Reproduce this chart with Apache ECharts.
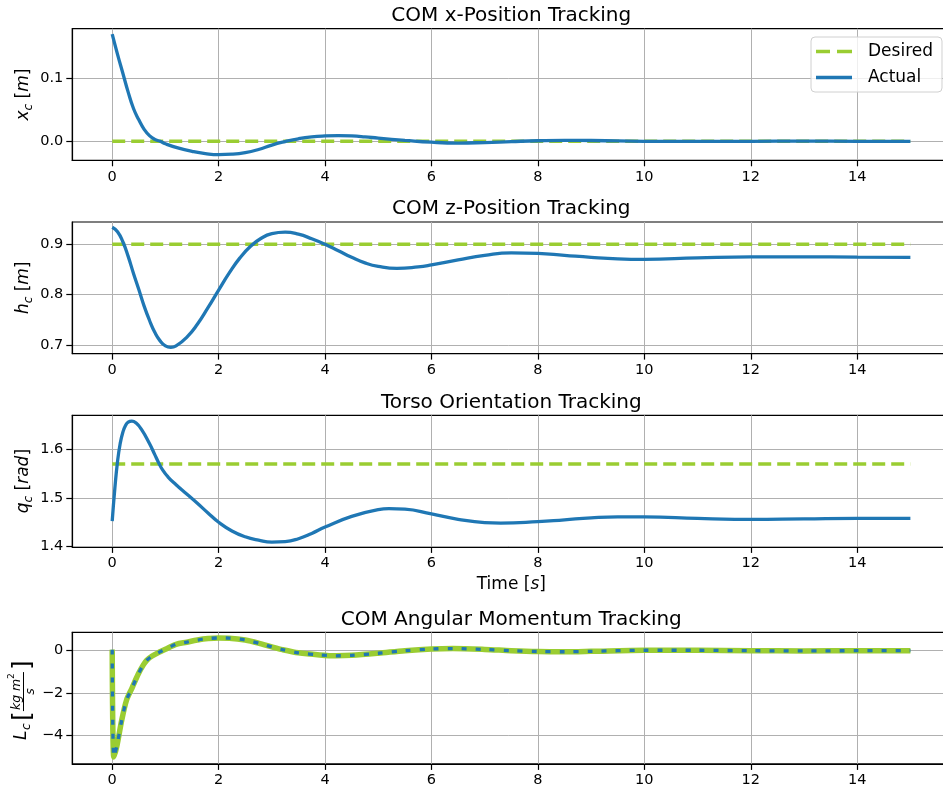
<!DOCTYPE html>
<html><head><meta charset="utf-8">
<script src="https://cdn.jsdelivr.net/npm/echarts@6/dist/echarts.min.js"></script>
<style>html,body{margin:0;padding:0;background:#fff}#c{width:943px;height:792px}</style>
</head><body><div id="c"></div>
<script>
// ---------- data ----------
const titleTexts = ['COM x-Position Tracking', 'COM z-Position Tracking', 'Torso Orientation Tracking', 'COM Angular Momentum Tracking'];
const xTicks = [0, 2, 4, 6, 8, 10, 12, 14];
const yTicks1 = [0, 0.1];
const yTicks2 = [0.7, 0.8, 0.9];
const yTicks3 = [1.4, 1.5, 1.6];
const yTicks4 = [-4, -2, 0];

// desired references (constant)
const tDes = [0, 15];
const xDes = [0, 0];
const hDes = [0.9, 0.9];
const qDes = [1.57, 1.57];

// COM x-position (actual)
const tX = [0,0.1,0.2,0.3,0.4,0.5,0.6,0.7,0.8,0.9,1.0,1.25,1.5,1.75,2.0,2.25,2.5,2.75,3.0,3.25,3.5,3.75,4.0,4.25,4.5,4.75,5.0,5.5,6.0,6.5,7.0,7.5,8.0,8.5,9.0,9.5,10,11,12,13,14,15];
const xAct = [0.17,0.138,0.108,0.078,0.052,0.034,0.019,0.009,0.003,0.0,-0.004,-0.011,-0.016,-0.0195,-0.0212,-0.0205,-0.018,-0.013,-0.006,-0.0005,0.004,0.007,0.0085,0.009,0.0085,0.007,0.005,0.0015,-0.0015,-0.0028,-0.002,-0.0005,0.0008,0.0014,0.0012,0.0005,0.0,-0.0003,0.0,0.0002,0.0,0.0];

// COM z-position (actual)
const tH = [0,0.1,0.2,0.3,0.4,0.5,0.6,0.7,0.8,0.9,1.0,1.1,1.2,1.4,1.6,1.8,2.0,2.2,2.4,2.6,2.8,3.0,3.25,3.5,3.75,4.0,4.25,4.5,4.75,5.0,5.35,5.75,6.0,6.5,7.0,7.5,8.0,8.5,9.0,9.5,10,11,12,13,14,15];
const hAct = [0.934,0.925,0.905,0.876,0.842,0.81,0.777,0.749,0.725,0.708,0.698,0.695,0.698,0.715,0.741,0.774,0.809,0.843,0.873,0.896,0.912,0.921,0.924,0.920,0.911,0.900,0.887,0.874,0.863,0.856,0.852,0.855,0.859,0.869,0.878,0.883,0.882,0.878,0.874,0.871,0.870,0.873,0.875,0.875,0.8745,0.874];

// torso orientation (actual)
const tQ = [0,0.05,0.1,0.15,0.2,0.25,0.3,0.37,0.45,0.55,0.7,0.8,0.87,0.95,1.05,1.2,1.4,1.6,1.8,2.0,2.25,2.5,2.75,3.0,3.25,3.5,3.75,4.0,4.5,5.0,5.2,5.5,6.0,6.5,7.0,7.3,8.0,8.5,9.0,9.5,10,11,11.7,12,13,14,15];
const qAct = [1.452,1.52,1.575,1.612,1.635,1.649,1.656,1.658,1.654,1.641,1.612,1.589,1.573,1.557,1.543,1.527,1.508,1.489,1.469,1.45,1.432,1.42,1.413,1.409,1.41,1.416,1.427,1.44,1.462,1.476,1.478,1.477,1.467,1.456,1.449,1.448,1.451,1.455,1.459,1.461,1.461,1.458,1.456,1.456,1.457,1.458,1.458];

// COM angular momentum (desired and actual coincide)
const tL = [0,0.03,0.085,0.18,0.27,0.37,0.49,0.585,0.65,0.75,0.9,1.0,1.2,1.4,1.6,1.8,2.0,2.2,2.5,2.8,3.0,3.2,3.5,3.9,4.2,4.5,5.0,5.5,6.0,6.4,7.0,7.5,8.0,8.5,9.0,10,11,12,13,14,15];
const LDes = [0.05,-5.0,-4.52,-3.26,-2.32,-1.77,-1.1,-0.67,-0.45,-0.25,-0.05,0.07,0.3,0.4,0.5,0.57,0.6,0.59,0.5,0.32,0.18,0.05,-0.1,-0.2,-0.24,-0.22,-0.12,0.0,0.08,0.1,0.06,0.0,-0.04,-0.05,-0.03,0.02,0.02,0.0,-0.01,0.0,0.0];
const LAct = [0.05,-5.0,-4.52,-3.26,-2.32,-1.77,-1.1,-0.67,-0.45,-0.25,-0.05,0.07,0.3,0.4,0.5,0.57,0.6,0.59,0.5,0.32,0.18,0.05,-0.1,-0.2,-0.24,-0.22,-0.12,0.0,0.08,0.1,0.06,0.0,-0.04,-0.05,-0.03,0.02,0.02,0.0,-0.01,0.0,0.0];

// ---------- chart ----------
const FF = 'DejaVu Sans';
const BLUE = '#1f77b4', GREEN = '#9acd32';
const pairs = (t, v) => t.map((x, i) => [x, v[i]]);
const gridTops = [28.7, 222, 415.3, 632.3];
const GH = 131.6, GL = 72.3, GW = 878;
const yRanges = [[-0.0302, 0.1787], [0.6827, 0.9443], [1.3992, 1.670], [-5.33, 0.866]];
const yTickSets = [yTicks1, yTicks2, yTicks3, yTicks4];
const minusFmt = v => (v < 0 ? '\u2212' + Math.abs(v) : String(v));
const yFmts = [v => v.toFixed(1), v => v.toFixed(1), v => v.toFixed(1), minusFmt];

const axisCommon = {
  axisLine: { show: true, onZero: false, lineStyle: { color: '#000', width: 1.2 } },
  axisTick: { show: true, inside: false, length: 6, lineStyle: { color: '#000', width: 1.2 } },
  splitLine: { show: true, lineStyle: { color: '#b0b0b0', width: 1 } }
};

const grids = gridTops.map(t => ({ left: GL, top: t, width: GW, height: GH, show: true, borderColor: '#000', borderWidth: 1.2, backgroundColor: 'transparent', outerBoundsMode: 'none', containLabel: false }));

const xAxes = gridTops.map((t, i) => ({
  type: 'value', gridIndex: i, min: -0.75, max: 15.75,
  ...axisCommon,
  axisTick: { ...axisCommon.axisTick, customValues: xTicks },
  axisLabel: { customValues: xTicks, margin: 9, fontSize: 14.5, fontFamily: FF, color: '#000', formatter: v => String(v) },
  name: i === 2 ? 'Time [{i|s}]' : '',
  nameLocation: 'middle', nameGap: 29,
  nameTextStyle: { fontSize: 17, fontFamily: FF, color: '#000', rich: { i: { fontSize: 17, fontFamily: FF, fontStyle: 'italic', color: '#000' } } }
}));

const yAxes = gridTops.map((t, i) => ({
  type: 'value', gridIndex: i, min: yRanges[i][0], max: yRanges[i][1],
  ...axisCommon,
  axisTick: { ...axisCommon.axisTick, customValues: yTickSets[i] },
  axisLabel: { customValues: yTickSets[i], margin: 9, fontSize: 14.5, fontFamily: FF, color: '#000', formatter: yFmts[i] }
}));

const desStyle = { color: GREEN, width: 3.5, type: [13, 6] };
const actStyle = { color: BLUE, width: 3.3, type: 'solid' };
const mk = (name, gi, data, ls, smooth) => ({
  name, type: 'line', xAxisIndex: gi, yAxisIndex: gi, data, symbol: 'none', showSymbol: false,
  smooth, lineStyle: ls, itemStyle: { color: ls.color }, animation: false, emphasis: { disabled: true }
});

const series = [
  mk('Desired', 0, pairs(tDes, xDes), desStyle, false),
  mk('Actual', 0, pairs(tX, xAct), actStyle, 0.5),
  mk('Desired', 1, pairs(tDes, hDes), desStyle, false),
  mk('Actual', 1, pairs(tH, hAct), actStyle, 0.5),
  mk('Desired', 2, pairs(tDes, qDes), desStyle, false),
  mk('Actual', 2, pairs(tQ, qAct), actStyle, 0.5),
  mk('Desired', 3, pairs(tL, LDes), { color: GREEN, width: 5.5, type: 'solid' }, 0.3),
  mk('Actual', 3, pairs(tL, LAct), { color: BLUE, width: 3.3, type: [5, 9] }, 0.3)
];

const titleTops = gridTops.map(t => t - 23);
const titles = titleTexts.map((txt, i) => ({
  text: txt, left: GL + 439, top: titleTops[i], textAlign: 'center', padding: 0,
  textStyle: { fontSize: 20, fontWeight: 'normal', fontFamily: FF, color: '#000' }
}));

const rich = {
  i: { fontStyle: 'italic', fontSize: 17, fontFamily: FF, lineHeight: 22, verticalAlign: 'middle', fill: '#000' },
  n: { fontSize: 17, fontFamily: FF, lineHeight: 22, verticalAlign: 'middle', fill: '#000' },
  s: { fontStyle: 'italic', fontSize: 12, fontFamily: FF, lineHeight: 12, verticalAlign: 'bottom', fill: '#000' }
};
const yLabelTexts = ['{i|x}{s|c}{n| [}{i|m}{n|]}', '{i|h}{s|c}{n| [}{i|m}{n|]}', '{i|q}{s|c}{n| [}{i|rad}{n|]}'];
const graphic = yLabelTexts.map((txt, i) => ({
  type: 'text', x: 24, y: gridTops[i] + GH / 2, rotation: Math.PI / 2,
  style: { text: txt, rich, align: 'center', verticalAlign: 'middle', fontSize: 17, fontFamily: FF, fill: '#000' }
}));
const tx = (text, x, y, size, italic, align) => ({ type: 'text', style: { text, x, y, fontSize: size, fontFamily: FF, fontStyle: italic ? 'italic' : 'normal', fill: '#000', align: align || 'left', verticalAlign: 'middle' } });
graphic.push({
  type: 'group', x: 23, y: gridTops[3] + GH / 2 + 2, rotation: Math.PI / 2,
  children: [
    tx('L', -40, -1, 17, true),
    tx('c', -30, 4, 12, true),
    tx('[', -21, 0, 25, false),
    tx('kg m', -10, -6.5, 12.5, true),
    tx('2', 21, -11, 9, false),
    { type: 'line', shape: { x1: -11, y1: 0.5, x2: 28, y2: 0.5 }, style: { stroke: '#000', lineWidth: 1 } },
    tx('s', 8.5, 7.5, 12.5, true, 'center'),
    tx(']', 30, 0, 25, false)
  ]
});

const legendData = [
  { name: 'Desired', icon: 'path://M0,0h14v3.5h-14z M21,0h15v3.5h-15z' },
  { name: 'Actual', icon: 'path://M0,0h36v3.5h-36z' }
];

const option = {
  backgroundColor: '#fff',
  animation: false,
  title: titles,
  legend: {
    data: legendData, orient: 'vertical', left: 811, top: 37,
    itemWidth: 36, itemHeight: 17, itemGap: 9,
    padding: [6, 9, 6, 5],
    backgroundColor: 'rgba(255,255,255,0.8)', borderColor: '#d0d0d0', borderWidth: 1, borderRadius: 4,
    textStyle: { fontSize: 17, fontFamily: FF, color: '#000', padding: [0, 0, 0, 11] },
    selectedMode: false
  },
  grid: grids, xAxis: xAxes, yAxis: yAxes, series, graphic
};
const chart = echarts.init(document.getElementById('c'), null, { renderer: 'canvas' });
chart.setOption(option);
</script></body></html>
